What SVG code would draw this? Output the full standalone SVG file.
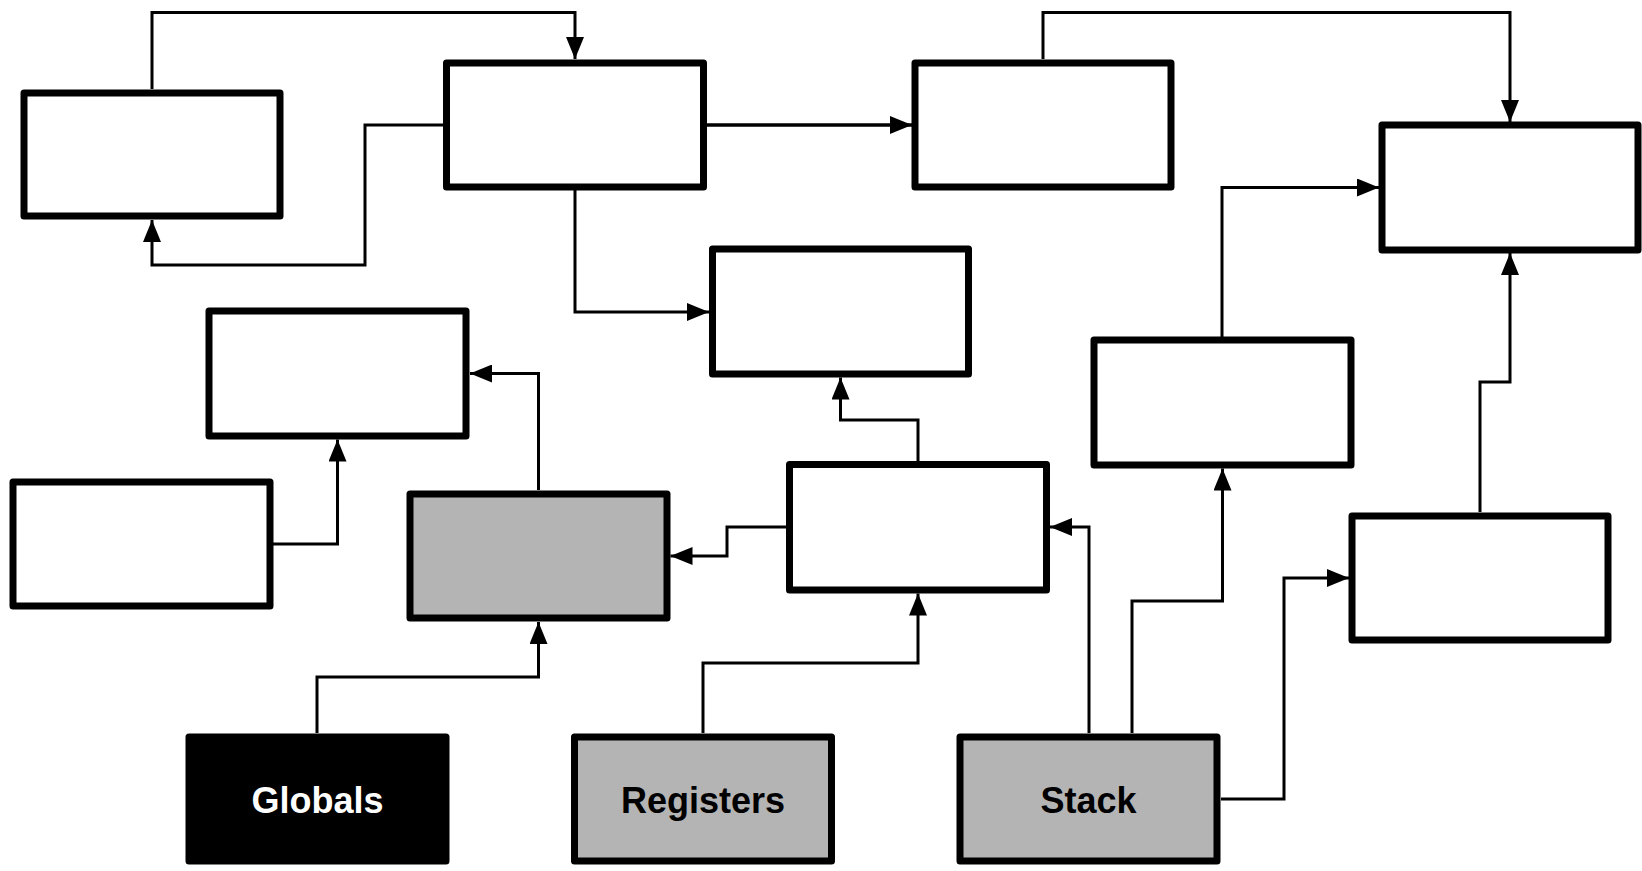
<svg xmlns="http://www.w3.org/2000/svg" width="1642" height="871" viewBox="0 0 1642 871">
<style>
.box{fill:#ffffff;stroke:#000000;stroke-width:7;stroke-linejoin:round}
.gray{fill:#b4b4b4}
.black{fill:#000000}
.lbl{font-family:"Liberation Sans",Arial,sans-serif;font-weight:bold;font-size:36px;text-anchor:middle}
.conn{fill:none;stroke:#000000;stroke-width:3;stroke-linejoin:miter;marker-end:url(#arr)}
.plain{fill:none;stroke:#000000;stroke-width:3}
</style>
<defs>
<marker id="arr" markerUnits="userSpaceOnUse" markerWidth="22" markerHeight="18" refX="22" refY="9" orient="auto">
<path d="M0,0 L22,9 L0,18 z" fill="#000000"/>
</marker>
</defs>
<rect width="1642" height="871" fill="#ffffff"/>
<g id="connectors">
<path class="conn" d="M152,89 V12.5 H575 V59"/>
<path class="conn" d="M443,125 H365 V265 H152 V220"/>
<path class="conn" d="M707,125 H912" style="stroke-width:3.5"/>
<path class="conn" d="M575,190 V312 H709"/>
<path class="conn" d="M1043,59 V12.5 H1510 V122"/>
<path class="conn" d="M1222,337 V187.5 H1379"/>
<path class="conn" d="M1480,512 V382 H1510 V253"/>
<path class="conn" d="M273,544 H337.5 V439.5"/>
<path class="conn" d="M538.5,490 V373.5 H470"/>
<path class="conn" d="M786,527 H727 V556 H670.5"/>
<path class="conn" d="M918,461 V420 H840.5 V377.5"/>
<path class="conn" d="M703,733 V663 H918 V593.5"/>
<path class="conn" d="M317,733 V677 H538.5 V622"/>
<path class="conn" d="M1089,733 V527 H1050"/>
<path class="conn" d="M1132,733 V601 H1222.5 V468.5"/>
<path class="conn" d="M1221,799 H1284 V578 H1349"/>
</g>
<g id="nodeA"><rect class="box" x="24" y="93" width="256" height="123"/></g>
<g id="nodeB"><rect class="box" x="446.5" y="63" width="257" height="124"/></g>
<g id="nodeC"><rect class="box" x="915" y="63" width="256" height="124"/></g>
<g id="nodeD"><rect class="box" x="1382" y="125" width="256" height="125"/></g>
<g id="nodeE"><rect class="box" x="712.5" y="249" width="256" height="125"/></g>
<g id="nodeF"><rect class="box" x="209" y="311" width="257" height="125"/></g>
<g id="nodeG"><rect class="box" x="13" y="482" width="257" height="124"/></g>
<g id="nodeH"><rect class="box gray" x="410" y="494" width="257" height="124"/></g>
<g id="nodeI"><rect class="box" x="789.5" y="464.5" width="257" height="125.5"/></g>
<g id="nodeJ"><rect class="box" x="1094" y="340" width="257" height="125"/></g>
<g id="nodeK"><rect class="box" x="1352" y="516" width="256" height="124"/></g>
<g id="globals"><rect class="box black" x="189" y="737" width="257" height="124"/><text class="lbl" x="317.5" y="813" fill="#ffffff">Globals</text></g>
<g id="registers"><rect class="box gray" x="574.5" y="737" width="257" height="124"/><text class="lbl" x="703" y="813" fill="#000000">Registers</text></g>
<g id="stack"><rect class="box gray" x="960" y="737" width="257" height="124"/><text class="lbl" x="1088.5" y="813" fill="#000000">Stack</text></g>
</svg>
